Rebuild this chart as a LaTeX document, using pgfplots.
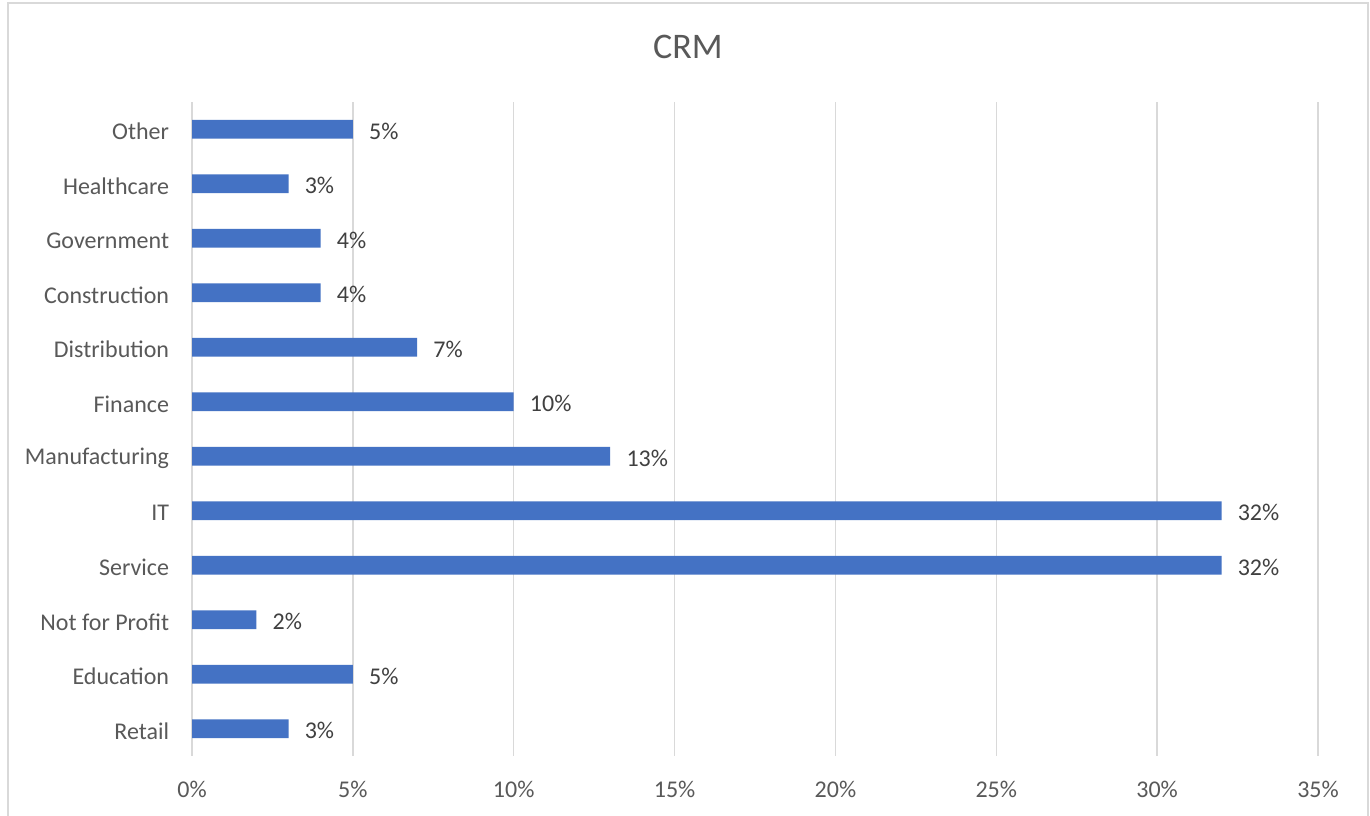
\documentclass[border=0pt]{standalone}
\usepackage{pgfplots}
\pgfplotsset{compat=1.18}
\usepackage{fontspec}
\setmainfont{Carlito}
\definecolor{barblue}{HTML}{4472C4}
\definecolor{gridgray}{HTML}{D9D9D9}
\definecolor{labgray}{HTML}{595959}
\definecolor{datgray}{HTML}{404040}
\begin{document}
\begin{tikzpicture}
\useasboundingbox (0pt,0pt) rectangle (1027.5pt,612pt);
\fill[white] (0pt,0pt) rectangle (1027.5pt,612pt);
\draw[gridgray, line width=1.5pt] (6pt,-8pt) rectangle (1026pt,609.75pt);
\node[text=labgray, font=\fontsize{27}{32}\selectfont] at (516pt,576.75pt) {CRM};
\begin{axis}[
  at={(144pt,45pt)}, anchor=south west,
  scale only axis,
  width=844.5pt, height=490.5pt,
  xbar, bar width=14pt,
  xmin=0, xmax=35, ymin=-0.5, ymax=11.5,
  xtick={0,5,...,35},
  xticklabel={\pgfmathprintnumber{\tick}\%},
  ytick={0,...,11},
  yticklabels={Retail,Education,Not for Profit,Service,IT,Manufacturing,Finance,Distribution,Construction,Government,Healthcare,Other},
  /pgf/number format/assume math mode=true,
  xmajorgrids, major grid style={gridgray, line width=1.1pt},
  axis line style={draw=none},
  major tick length=0pt,
  ticklabel style={text=labgray, font=\fontsize{18}{21}\selectfont, inner sep=0pt},
  xticklabel style={anchor=north, yshift=-19pt},
  yticklabel style={anchor=east, xshift=-17pt, yshift=-1.6pt},
  nodes near coords={\pgfmathprintnumber{\pgfplotspointmeta}\%},
  nodes near coords style={text=datgray, font=\fontsize{18}{21}\selectfont, anchor=west, inner sep=0pt, xshift=12pt, yshift=-1.6pt},
  point meta=x,
  clip=false,
]
\addplot[fill=barblue, draw=none] coordinates {
(3,0) (5,1) (2,2) (32,3) (32,4) (13,5) (10,6) (7,7) (4,8) (4,9) (3,10) (5,11)
};
\end{axis}
\end{tikzpicture}
\end{document}
